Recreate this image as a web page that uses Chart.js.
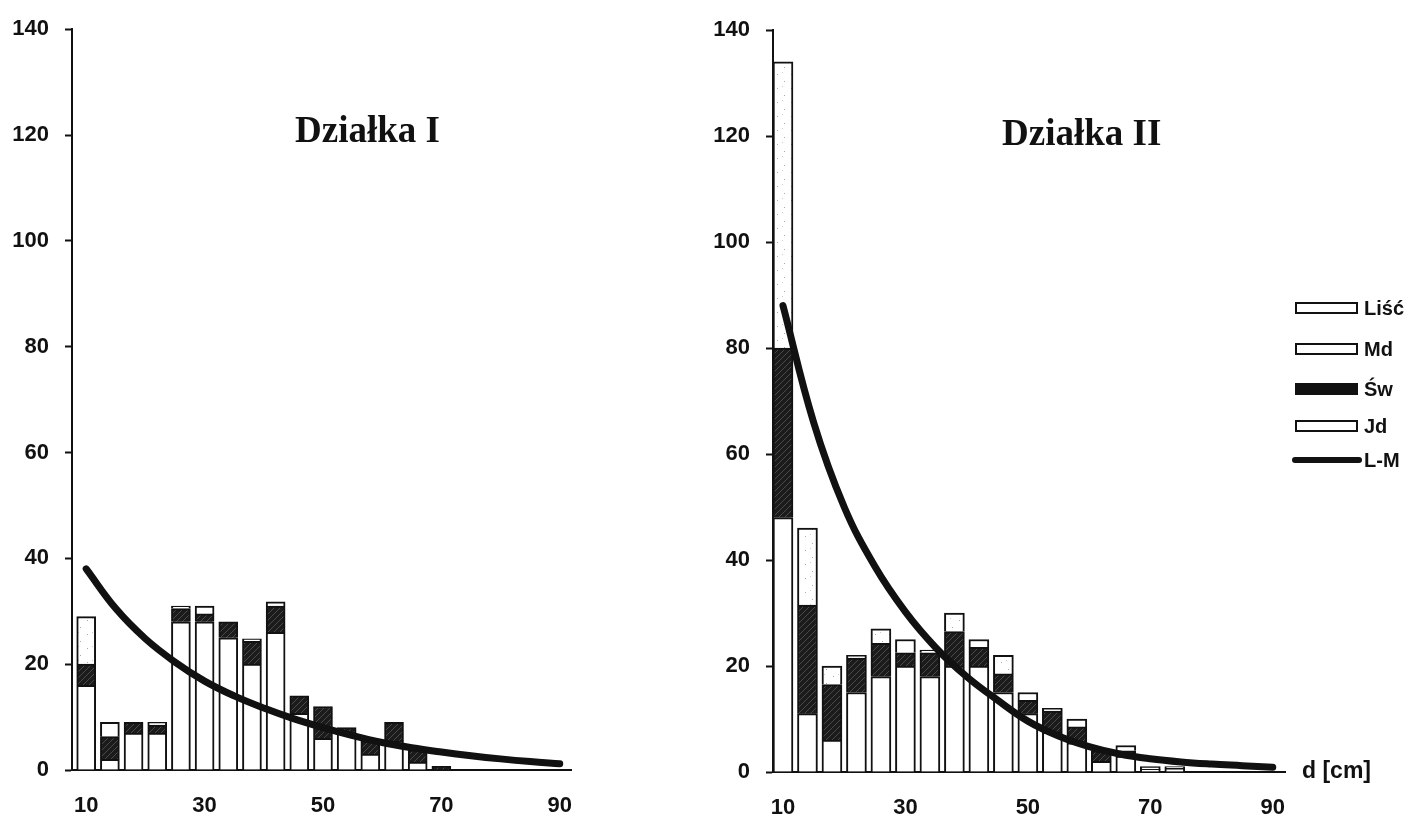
<!DOCTYPE html>
<html>
<head>
<meta charset="utf-8">
<script src="https://cdn.jsdelivr.net/npm/chart.js@4.4.1/dist/chart.umd.min.js"></script>
<style>
  body { margin: 0; background: #fff; width: 1411px; height: 817px; overflow: hidden; position: relative;
         font-family: "Liberation Sans", Arial, sans-serif; color: #111; }
  canvas { position: absolute; top: 0; }
  .title { position: absolute; font: bold 37px/37px "Liberation Serif", serif; white-space: nowrap; }
  .lg-box { position: absolute; left: 1295px; width: 59px; height: 8px; border: 2px solid #111; background: #fff; }
  .lg-txt { position: absolute; left: 1364px; font: bold 20px/20px "Liberation Sans", Arial, sans-serif; }
  .unit { position: absolute; left: 1302px; top: 757px; font: bold 23px/26px "Liberation Sans", Arial, sans-serif; }
</style>
</head>
<body>
<canvas id="chartI" width="620" height="817" style="left:0"></canvas>
<canvas id="chartII" width="620" height="817" style="left:690px"></canvas>

<div class="title" style="left:295px;top:111px">Działka I</div>
<div class="title" style="left:1002px;top:114px">Działka II</div>

<div class="lg-box" style="top:302px"></div><div class="lg-txt" style="top:298px">Liść</div>
<div class="lg-box" style="top:343px"></div><div class="lg-txt" style="top:339px">Md</div>
<div class="lg-box" style="top:383px;background:#111"></div><div class="lg-txt" style="top:379px">Św</div>
<div class="lg-box" style="top:420px"></div><div class="lg-txt" style="top:416px">Jd</div>
<div style="position:absolute;left:1292px;top:457px;width:70px;height:6px;border-radius:3px;background:#111"></div>
<div class="lg-txt" style="top:450px">L-M</div>

<div class="unit">d [cm]</div>

<script>
/* ====== data ====== */
const xTicks = [10, 30, 50, 70, 90];
const yTicks = [0, 20, 40, 60, 80, 100, 120, 140];

// Działka I  (diameter classes, cm)
const clsI = [10, 14, 18, 22, 26, 30, 34, 38, 42, 46, 50, 54, 58, 62, 66, 70];
const jdI  = [16, 2, 7, 7, 28, 28, 25, 20, 26, 10.7, 6, 7, 3, 5.5, 1.5, 0];
const swI  = [4, 4.3, 2, 1.5, 2.5, 1.5, 3, 4.3, 5, 3.3, 6, 1, 2.5, 3.5, 2.3, 0.7];
const mdI  = [0, 2.7, 0, 0.5, 0.5, 1.5, 0, 0.5, 0.8, 0, 0, 0, 0, 0, 0, 0];
const lscI = [9, 0, 0, 0, 0, 0, 0, 0, 0, 0, 0, 0, 0, 0, 0, 0];
const lmIx = [10, 15, 20, 25, 30, 35, 40, 45, 50, 55, 60, 65, 70, 75, 80, 85, 90];
const lmIy = [38, 30.5, 24.8, 20.4, 16.8, 14, 11.7, 9.7, 8, 6.5, 5.2, 4.2, 3.4, 2.7, 2.1, 1.6, 1.2];

// Działka II
const clsII = [10, 14, 18, 22, 26, 30, 34, 38, 42, 46, 50, 54, 58, 62, 66, 70, 74];
const jdII  = [48, 11, 6, 15, 18, 20, 18, 20, 20, 15, 11, 7.5, 5.5, 2, 3, 0.5, 0.7];
const swII  = [32, 20.5, 10.5, 6.5, 6.3, 2.5, 4.5, 6.5, 3.5, 3.5, 2.5, 4, 3, 2, 1, 0, 0];
const mdII  = [0, 0, 0, 0.5, 0, 2.5, 0.5, 0, 1.5, 0, 1.5, 0.5, 1.5, 0, 1, 0.5, 0.3];
const lscII = [54, 14.5, 3.5, 0, 2.7, 0, 0, 3.5, 0, 3.5, 0, 0, 0, 0, 0, 0, 0];
const lmIIx = [10, 15, 20, 25, 30, 35, 40, 45, 50, 55, 60, 65, 70, 75, 80, 85, 90];
const lmIIy = [88, 66, 50, 38.8, 30.2, 23.4, 18, 13.6, 9.6, 6.8, 4.8, 3.4, 2.5, 1.9, 1.5, 1.2, 0.9];

/* ====== fills ====== */
function makeHatch() {
  const c = document.createElement("canvas");
  c.width = c.height = 6;
  const g = c.getContext("2d");
  g.fillStyle = "#1b1b1b";
  g.fillRect(0, 0, 6, 6);
  g.strokeStyle = "#4a4a4a";
  g.lineWidth = 1;
  g.beginPath();
  g.moveTo(0, 6); g.lineTo(6, 0);
  g.moveTo(-3, 3); g.lineTo(3, -3);
  g.moveTo(3, 9); g.lineTo(9, 3);
  g.stroke();
  return g.createPattern(c, "repeat");
}
function makeDots() {
  const c = document.createElement("canvas");
  c.width = c.height = 14;
  const g = c.getContext("2d");
  g.fillStyle = "#fff";
  g.fillRect(0, 0, 14, 14);
  g.fillStyle = "#aaa";
  g.fillRect(3, 4, 1, 1);
  g.fillRect(10, 11, 1, 1);
  g.fillStyle = "#ccc";
  g.fillRect(8, 2, 1, 1);
  return g.createPattern(c, "repeat");
}
const hatch = makeHatch();
const dots = makeDots();

/* ====== chart ====== */
const font = { family: "'Liberation Sans', Arial, sans-serif", size: 22, weight: "bold" };

function barSet(label, cls, vals, fill, thick) {
  return {
    label,
    data: cls.map((x, i) => ({ x, y: vals[i] })),
    backgroundColor: fill,
    borderColor: "#111",
    borderWidth: 2,
    barThickness: thick,
    order: 1,
  };
}

function makeChart(id, c) {
  const ctx = document.getElementById(id).getContext("2d");
  return new Chart(ctx, {
    type: "bar",
    data: {
      datasets: [
        barSet("Jd", c.cls, c.jd, "#fff", c.thick),
        barSet("Św", c.cls, c.sw, hatch, c.thick),
        barSet("Md", c.cls, c.md, "#fff", c.thick),
        barSet("Liść", c.cls, c.lsc, dots, c.thick),
        {
          type: "line",
          label: "L-M",
          data: c.lmX.map((x, i) => ({ x, y: c.lmY[i] })),
          borderColor: "#111",
          borderWidth: 7,
          borderCapStyle: "round",
          pointRadius: 0,
          tension: 0.4,
          fill: false,
          order: 0,
        },
      ],
    },
    options: {
      responsive: false,
      animation: false,
      layout: { padding: { top: c.top, right: c.right, left: 0, bottom: 0 } },
      plugins: { legend: { display: false }, tooltip: { enabled: false } },
      scales: {
        x: {
          type: "linear",
          stacked: true,
          offset: false,
          min: c.xMin,
          max: c.xMax,
          afterBuildTicks: (s) => { s.ticks = xTicks.map((v) => ({ value: v })); },
          afterFit: (s) => { s.height = c.xh; },
          grid: { display: false, drawTicks: false },
          border: { display: true, color: "#111", width: 2 },
          ticks: { padding: 23, color: "#111", font, maxRotation: 0, autoSkip: false },
        },
        y: {
          stacked: true,
          min: 0,
          max: 140,
          afterBuildTicks: (s) => { s.ticks = yTicks.map((v) => ({ value: v })); },
          afterFit: (s) => { s.width = c.yw; },
          grid: { drawOnChartArea: false, tickLength: 7, tickColor: "#111", tickWidth: 2 },
          border: { display: true, color: "#111", width: 2 },
          ticks: { padding: 16, color: "#111", font },
        },
      },
    },
  });
}

/* ====== start ====== */
makeChart("chartI", {
  cls: clsI, jd: jdI, sw: swI, md: mdI, lsc: lscI, lmX: lmIx, lmY: lmIy,
  thick: 19, xMin: 7.6, xMax: 91.9, top: 27, right: 49, xh: 47, yw: 72,
});
makeChart("chartII", {
  cls: clsII, jd: jdII, sw: swII, md: mdII, lsc: lscII, lmX: lmIIx, lmY: lmIIy,
  thick: 20, xMin: 8.37, xMax: 92.0, top: 30, right: 25, xh: 45, yw: 83,
});
</script>
</body>
</html>
